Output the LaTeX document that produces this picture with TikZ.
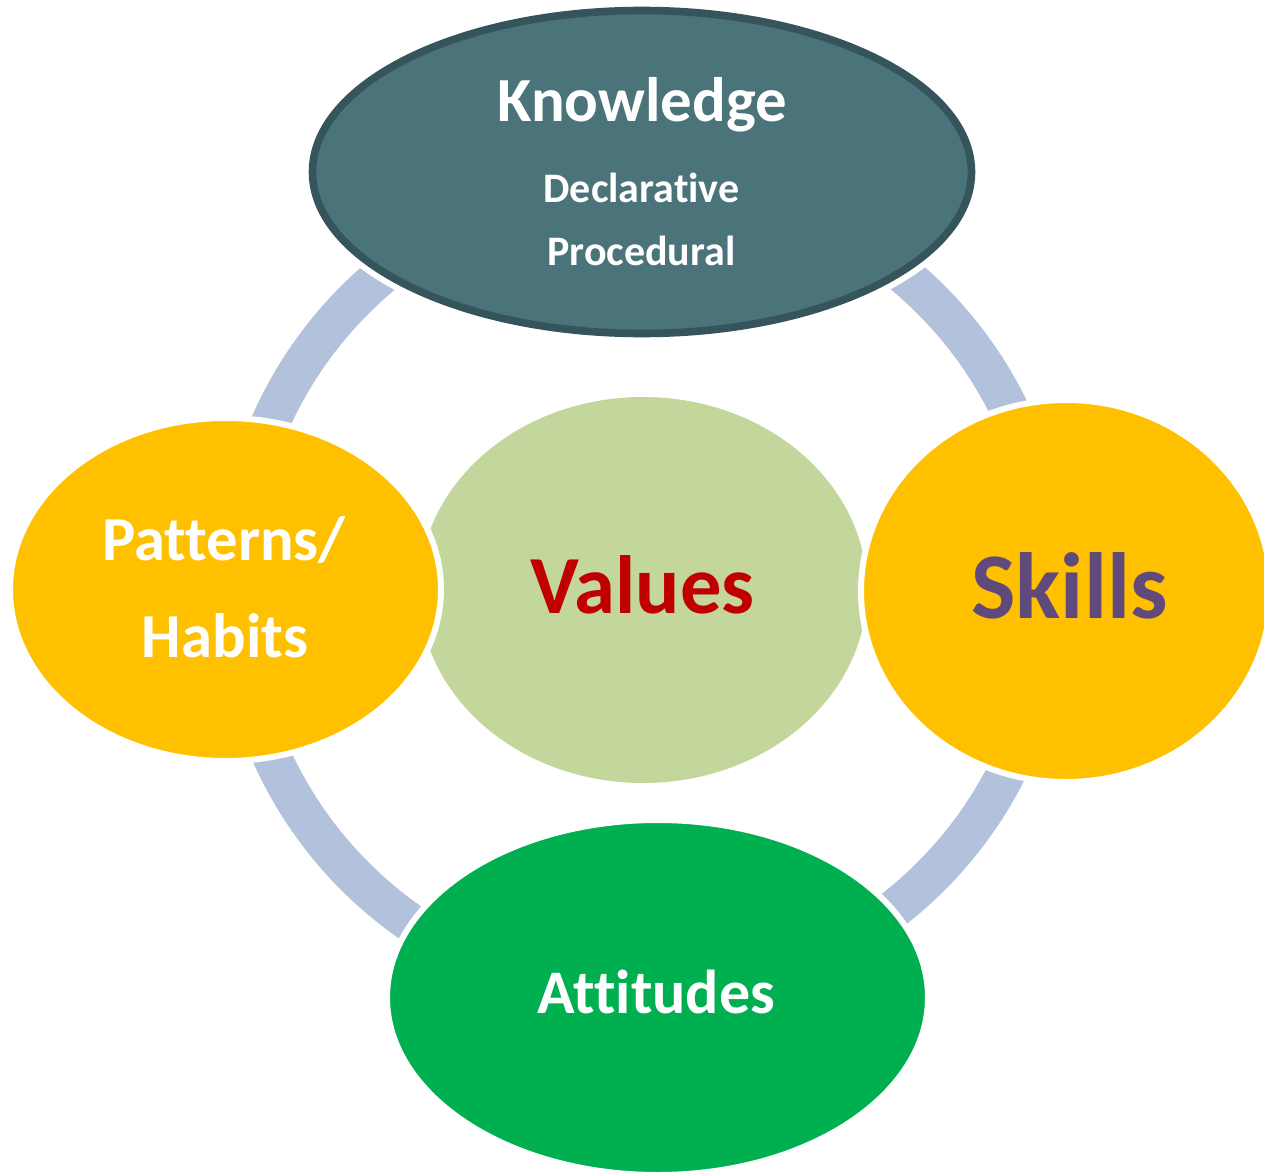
\documentclass[tikz,border=0pt]{standalone}
\usepackage{fontspec}
\setmainfont[Ligatures={NoCommon}]{Carlito}
\usetikzlibrary{shapes.geometric}
\definecolor{ringc}{HTML}{B2C1DC}
\definecolor{knowfill}{HTML}{4A737A}
\definecolor{knowline}{HTML}{36545B}
\definecolor{valfill}{HTML}{C3D69B}
\definecolor{valtext}{HTML}{C00000}
\definecolor{orangefill}{HTML}{FFC000}
\definecolor{skilltext}{HTML}{604A7B}
\definecolor{attfill}{HTML}{00B050}
\begin{document}
\begin{tikzpicture}[x=0.5pt,y=-0.5pt,
  blob/.style={ellipse, inner sep=0pt, outer sep=0pt},
  gapline/.style={draw=white, line width=3pt},
  lbl/.style={anchor=base, inner sep=0pt, font=\bfseries\fontsize{#1}{#1}\selectfont}
]
\useasboundingbox (0,0) rectangle (1264,1172);
% ring
\draw[ringc, line width=19.5pt] (643,588) circle[radius=407.5];
% ellipses
\node[blob, fill=valfill, minimum width=224pt, minimum height=193pt] (values) at (643,590) {};
\node[blob, fill=knowfill, draw=knowline, line width=3.8pt,
      preaction={draw=white, line width=9.8pt},
      minimum width=329.5pt, minimum height=161.5pt] (knowledge) at (642,172) {};
\node[blob, fill=orangefill, gapline, minimum width=215.5pt, minimum height=171.5pt] (patterns) at (225.5,589.5) {};
\node[blob, fill=orangefill, gapline, minimum width=205pt, minimum height=191pt] (skills) at (1066,591) {};
\node[blob, fill=attfill, gapline, minimum width=270.5pt, minimum height=177.5pt] (attitudes) at (657.5,997.5) {};
% labels
\node[lbl=31.4pt, text=white] (tknow) at (642,122) {Knowledge};
\node[lbl=21pt, text=white] (tdecl) at (641.5,202) {Declarative};
\node[lbl=21pt, text=white] (tproc) at (641.5,265) {Procedural};
\node[lbl=41.3pt, text=valtext] (tval) at (642.5,613) {Values};
\node[lbl=47pt, text=skilltext] (tskill) at (1069.5,618) {Skills};
\node[lbl=31.3pt, text=white] (tpat) at (224,560) {Patterns/};
\node[lbl=31.3pt, text=white] (thab) at (225,657) {Habits};
\node[lbl=31pt, text=white] (tatt) at (656.5,1013) {Attitudes};
\end{tikzpicture}
\end{document}
